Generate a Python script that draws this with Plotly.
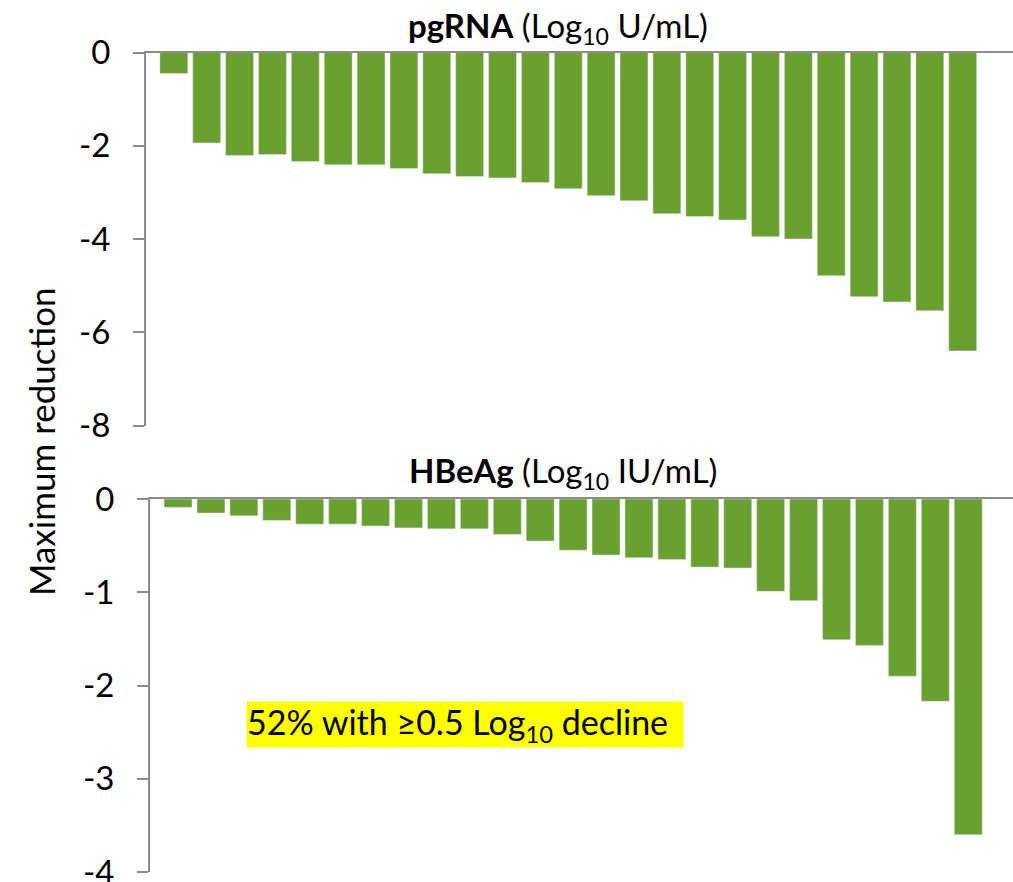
import plotly.graph_objects as go

# Patients ordered by depth of response (1..25)
patients = list(range(1, 26))

# Maximum reduction in pgRNA (Log10 U/mL)
pgrna_reduction = [
    -0.45, -1.94, -2.21, -2.19, -2.34, -2.41, -2.41, -2.49, -2.60, -2.66,
    -2.69, -2.79, -2.92, -3.07, -3.18, -3.46, -3.52, -3.59, -3.95, -4.00,
    -4.79, -5.24, -5.35, -5.54, -6.40,
]

# Maximum reduction in HBeAg (Log10 IU/mL)
hbeag_reduction = [
    -0.09, -0.15, -0.18, -0.23, -0.27, -0.27, -0.29, -0.31, -0.32, -0.32,
    -0.38, -0.45, -0.55, -0.60, -0.63, -0.65, -0.73, -0.74, -0.99, -1.09,
    -1.51, -1.57, -1.90, -2.17, -3.60,
]

pgrna_ticks = [0, -2, -4, -6, -8]
hbeag_ticks = [0, -1, -2, -3, -4]

W, H = 1013, 882
BAR = "#6aa02f"
AXIS = "#8c8c8c"
FONT = "Lato"


def py(px):
    """Convert a pixel row (from top) into paper y."""
    return 1 - px / H


fig = go.Figure()
fig.add_trace(go.Bar(x=patients, y=pgrna_reduction, marker_color=BAR,
                     xaxis="x", yaxis="y", showlegend=False))
fig.add_trace(go.Bar(x=patients, y=hbeag_reduction, marker_color=BAR,
                     xaxis="x2", yaxis="y2", showlegend=False))

common_x = dict(side="top", showline=True, linecolor=AXIS, linewidth=2,
                showticklabels=False, ticks="", showgrid=False, zeroline=False,
                automargin=False)
common_y = dict(showline=True, linecolor=AXIS, linewidth=2, ticks="outside",
                ticklen=11, tickwidth=2, tickcolor=AXIS, showgrid=False,
                zeroline=False, ticklabelstandoff=16, automargin=False,
                ticklabeloverflow="allow",
                tickfont=dict(family=FONT, size=33, color="black"))

fig.update_layout(
    width=W, height=H,
    margin=dict(l=0, r=0, t=0, b=0, autoexpand=False),
    plot_bgcolor="white", paper_bgcolor="white",
    bargap=0.15,
    xaxis=dict(domain=[146 / W, 1], range=[0.153, 26.53], anchor="y", **common_x),
    yaxis=dict(domain=[py(425.5), py(52.5)], range=[-8, 0], anchor="x",
               tickvals=pgrna_ticks, ticktext=[str(v) for v in pgrna_ticks], **common_y),
    xaxis2=dict(domain=[150 / W, 1], range=[0.149, 26.36], anchor="y2", **common_x),
    yaxis2=dict(domain=[py(872), py(499)], range=[-4, 0], anchor="x2",
                tickvals=hbeag_ticks, ticktext=[str(v) for v in hbeag_ticks], **common_y),
)

fig.add_annotation(
    text="<b>pgRNA</b> (Log<sub>10</sub> U/mL)", xref="paper", yref="paper",
    x=558 / W, y=py(27), xanchor="center", yanchor="middle", showarrow=False,
    font=dict(family=FONT, size=33, color="black"),
)
fig.add_annotation(
    text="<b>HBeAg</b> (Log<sub>10</sub> IU/mL)", xref="paper", yref="paper",
    x=563 / W, y=py(473), xanchor="center", yanchor="middle", showarrow=False,
    font=dict(family=FONT, size=33, color="black"),
)
fig.add_annotation(
    text="Maximum reduction", xref="paper", yref="paper",
    x=41 / W, y=py(442), xanchor="center", yanchor="middle", showarrow=False,
    textangle=-90, font=dict(family=FONT, size=35, color="black"),
)
fig.add_annotation(
    text="52% with ≥0.5 Log<sub>10</sub> decline", xref="paper", yref="paper",
    x=246 / W, y=py(724.5), xanchor="left", yanchor="middle", showarrow=False,
    width=436, height=45, align="left", bgcolor="#ffff00", borderpad=0,
    font=dict(family=FONT, size=34, color="black"),
)

fig.write_html("out.html")
